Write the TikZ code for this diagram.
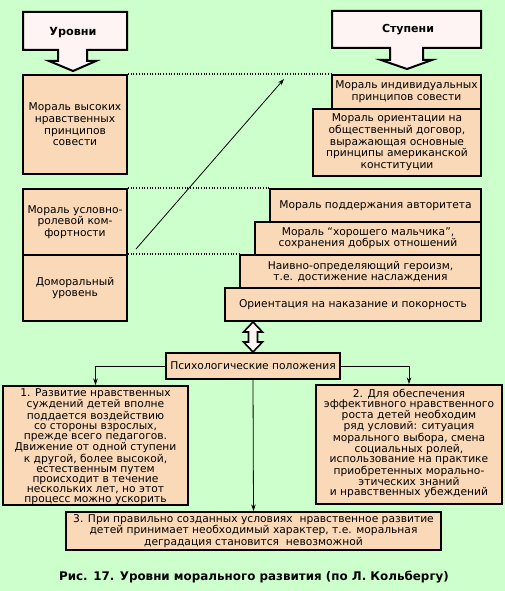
\documentclass[tikz,border=0pt]{standalone}
\usepackage{fontspec}
\setmainfont{DejaVu Sans}
\usetikzlibrary{arrows.meta}
\definecolor{bg}{RGB}{204,255,204}
\definecolor{peach}{RGB}{250,217,185}
\definecolor{callout}{RGB}{255,244,244}
\begin{document}
\begin{tikzpicture}[x=1pt,y=-1pt,
 every node/.style={font=\fontsize{10.7}{11.7}\selectfont, align=center, inner sep=0pt},
 box/.style={draw, line width=2pt, fill=peach},
 tight/.style={font=\fontsize{10.7}{10}\selectfont},
 dots/.style={line width=1.3pt, dash pattern=on 1pt off 1.7pt},
 conn/.style={line width=0.8pt, -{Stealth[length=6.5pt,width=4.5pt]}},
 bigarrow/.style={draw, line width=2pt, fill=callout, line join=miter}]
\fill[bg] (0,0) rectangle (505,591);
\useasboundingbox (0,0) rectangle (505,591);

% callouts
\draw[bigarrow] (23,12) -- (127,12) -- (127,50) -- (87,50) -- (87,61) -- (96,61) -- (73,71) -- (49,61) -- (58,61) -- (58,50) -- (23,50) -- cycle;
\node[font=\fontsize{11.2}{12}\selectfont\bfseries] (lev) at (73,33) {Уровни};
\draw[bigarrow] (332,11) -- (481,11) -- (481,48) -- (423,48) -- (423,60) -- (432,60) -- (407,69) -- (381,60) -- (390,60) -- (390,48) -- (332,48) -- cycle;
\node[font=\fontsize{11}{12}\selectfont\bfseries] (stp) at (408,30) {Ступени};

% levels
\node[box, minimum width=104, minimum height=99] (L1) at (75,124.5) {Мораль высоких\\нравственных\\принципов\\совести};
\node[box, minimum width=104, minimum height=66] (L2) at (75,222) {Мораль условно-\\ролевой ком-\\фортности};
\node[box, minimum width=104, minimum height=66] (L3) at (75,288) {Доморальный\\уровень};

% stages
\node[box, minimum width=149, minimum height=34] (R1) at (406.5,92) {Мораль индивидуальных\\принципов совести};
\node[box, minimum width=168, minimum height=67] (R2) at (397,142.5) {Мораль ориентации на\\общественный договор,\\выражающая основные\\принципы американской\\конституции};
\node[box, minimum width=211, minimum height=33] (SA) at (375.5,205.5) {Мораль поддержания авторитета};
\node[box, minimum width=226, minimum height=33, font=\fontsize{10.7}{11}\selectfont] (SB) at (368,238.5) {Мораль “хорошего мальчика”,\\сохранения добрых отношений};
\node[box, minimum width=241, minimum height=33, font=\fontsize{10.7}{11}\selectfont] (SC) at (360.5,271.5) {Наивно-определяющий героизм,\\т.е. достижение наслаждения};
\node[box, minimum width=256, minimum height=33] (SD) at (353,304.5) {Ориентация на наказание и покорность};

% dotted guides
\draw[dots] (L1.north east) -- (R1.north west);
\draw[dots] (L2.north east) -- (SA.north west);
\draw[dots] (L3.north east) -- (SC.north west);

% diagonal arrow
\coordinate (d0) at (136,249);
\coordinate (d1) at (284,79);
\draw[conn] (d0) -- (d1);

% double arrow
\draw[bigarrow, line width=1.6pt] (253,322) -- (262.5,332) -- (257.5,332) -- (257.5,342) -- (262.5,342) -- (253,352) -- (243.5,342) -- (248.5,342) -- (248.5,332) -- (243.5,332) -- cycle;

% psychological positions
\node[box, minimum width=174, minimum height=26] (P) at (253,366) {Психологические положения};
\node[box, minimum width=185, minimum height=119] (B1) at (95.5,445.5) {};
\node[tight, anchor=north] (B1t) at (95.5,388.5) {1. Развитие нравственных\\суждений детей вполне\\поддается воздействию\\со стороны взрослых,\\прежде всего педагогов.\\Движение от одной ступени\\к другой, более высокой,\\естественным путем\\происходит в течение\\нескольких лет, но этот\\процесс можно ускорить};
\node[box, minimum width=186, minimum height=119] (B2) at (409,444.5) {};
\node[tight, anchor=north] (B2t) at (409,388.5) {2. Для обеспечения\\эффективного нравственного\\роста детей необходим\\ряд условий: ситуация\\морального выбора, смена\\социальных ролей,\\использование на практике\\приобретенных морально-\\этических знаний\\и нравственных убеждений};
\node[box, tight, minimum width=375, minimum height=38] (B3) at (253.5,531) {3. При правильно созданных условиях\ \ нравственное развитие\\детей принимает необходимый характер, т.е. моральная\\деградация становится\ \ невозможной};

\draw[conn] (P.west) -| (B1.north);
\draw[conn] (P.east) -| (B2.north);
\draw[conn] (P.south) -- (B3.north);

\node[font=\fontsize{11.9}{13}\selectfont\bfseries] (cap) at (254,577) {Рис. 17. Уровни морального развития (по Л. Кольбергу)};
\end{tikzpicture}
\end{document}
